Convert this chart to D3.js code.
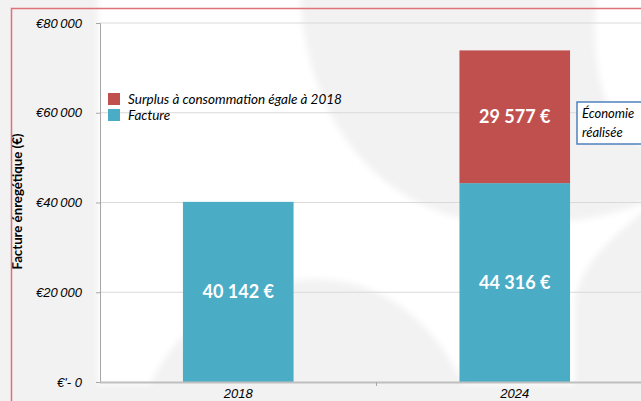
<!DOCTYPE html>
<html>
  <head>
    <meta charset="utf-8" />
    <script src="https://d3js.org/d3.v7.min.js"></script>
    <style>
      body { margin: 0; background: #ffffff; }
      svg { display: block; font-family: Lato, "Open Sans", sans-serif; }
    </style>
  </head>
  <body>
    <script>
      // chart data
      const years = ["2018", "2024"];
      const facture = [40142, 44316];
      const surplus = [0, 29577];
      const yTicks = [0, 20000, 40000, 60000, 80000];
      const seriesNames = ["Surplus à consommation égale à 2018", "Facture"];
      const colors = { facture: "#4bacc6", surplus: "#c0504d" };

      const width = 641, height = 401;
      const margin = { top: 23, right: -12, bottom: 19, left: 100 };

      const svg = d3.select("body").append("svg")
        .attr("width", width)
        .attr("height", height);

      svg.append("defs").append("filter").attr("id", "soft")
        .append("feGaussianBlur").attr("stdDeviation", 3);

      // faint watermark-like background (grey swirls on white)
      svg.append("rect").attr("width", width).attr("height", height).attr("fill", "#ffffff");
      const bg = svg.append("g").attr("fill", "#f2f2f2").attr("filter", "url(#soft)");
      bg.append("rect").attr("x", -10).attr("y", -10).attr("width", 108).attr("height", height + 20);
      bg.append("path")
        .attr("d", "M300,-10 L597,-10 C590,60 600,130 651,150 L651,200 C600,222 520,232 460,218 C370,195 305,115 300,-10 Z");
      bg.append("path")
        .attr("d", "M140,411 C165,330 230,288 300,280 C385,272 445,330 475,411 Z");
      bg.append("path")
        .attr("d", "M651,205 C610,240 582,262 575,300 L575,411 L651,411 Z");
      bg.append("rect").attr("x", -10).attr("y", 384).attr("width", width + 20).attr("height", 30);

      const x = d3.scaleBand()
        .domain(years)
        .range([margin.left, width - margin.right])
        .paddingInner(0.6)
        .paddingOuter(0.3);

      const y = d3.scaleLinear()
        .domain([0, 80000])
        .range([height - margin.bottom, margin.top]);

      // gridlines
      svg.append("g")
        .selectAll("line")
        .data(yTicks.slice(1))
        .join("line")
        .attr("x1", margin.left)
        .attr("x2", width)
        .attr("y1", d => y(d))
        .attr("y2", d => y(d))
        .attr("stroke", "#d9d9d9")
        .attr("stroke-width", 1);

      // y axis
      const yAxis = svg.append("g")
        .attr("transform", `translate(${margin.left},0)`)
        .call(d3.axisLeft(y).tickValues(yTicks).tickSize(4).tickPadding(14)
          .tickFormat(d => d === 0 ? "€'- 0" : "€" + d3.format(",")(d).replace(",", "\u2009")));
      yAxis.select(".domain").attr("stroke", "#a6a6a6");
      yAxis.selectAll(".tick line").attr("stroke", "#a6a6a6");
      yAxis.selectAll("text")
        .attr("font-size", 13)
        .attr("font-style", "italic")
        .attr("fill", "#000");

      // bars
      const stackData = years.map((yr, i) => ({ year: yr, facture: facture[i], surplus: surplus[i] }));
      const stack = d3.stack().keys(["facture", "surplus"])(stackData);

      svg.append("g")
        .selectAll("g")
        .data(stack)
        .join("g")
        .attr("fill", d => colors[d.key])
        .selectAll("rect")
        .data(d => d.filter(s => s[1] > s[0]))
        .join("rect")
        .attr("x", d => x(d.data.year))
        .attr("width", x.bandwidth())
        .attr("y", d => y(d[1]))
        .attr("height", d => y(d[0]) - y(d[1]));

      // bar value labels
      const fmt = v => d3.format(",")(v).replace(",", " ") + " €";
      const labels = [];
      stack.forEach(s => s.forEach(d => {
        if (d[1] > d[0]) labels.push({ year: d.data.year, v: d[1] - d[0], mid: (d[0] + d[1]) / 2 });
      }));
      svg.append("g")
        .selectAll("text")
        .data(labels)
        .join("text")
        .attr("x", d => x(d.year) + x.bandwidth() / 2)
        .attr("y", d => y(d.mid))
        .attr("dy", "0.35em")
        .attr("text-anchor", "middle")
        .attr("font-size", 18)
        .attr("font-weight", "bold")
        .attr("fill", "#ffffff")
        .text(d => fmt(d.v));

      // x axis
      const xAxis = svg.append("g")
        .attr("transform", `translate(0,${y(0)})`)
        .call(d3.axisBottom(x).tickSize(0).tickPadding(7));
      xAxis.select(".domain").remove();
      svg.append("line")
        .attr("x1", margin.left).attr("x2", width)
        .attr("y1", y(0) + 0.5).attr("y2", y(0) + 0.5)
        .attr("stroke", "#bfbfbf").attr("stroke-width", 2);
      svg.append("line")
        .attr("x1", (x("2018") + x("2024") + x.bandwidth()) / 2)
        .attr("x2", (x("2018") + x("2024") + x.bandwidth()) / 2)
        .attr("y1", y(0)).attr("y2", y(0) + 4)
        .attr("stroke", "#a6a6a6");
      xAxis.selectAll("text")
        .attr("font-size", 13)
        .attr("font-style", "italic")
        .attr("fill", "#000");

      // y axis title, sized to span about 136px like the original
      const title = svg.append("text")
        .attr("transform", `translate(22,${y(40000) - 1}) rotate(-90)`)
        .attr("text-anchor", "middle")
        .attr("font-size", 13)
        .attr("font-weight", "bold")
        .attr("fill", "#000")
        .text("Facture énregétique (€)");
      const tl = title.node().getComputedTextLength();
      if (tl > 0) title.attr("font-size", Math.min(15, 13 * 136 / tl));

      // legend
      const legend = svg.append("g").attr("transform", "translate(108,93)");
      seriesNames.forEach((name, i) => {
        const g = legend.append("g").attr("transform", `translate(0,${i * 16})`);
        g.append("rect").attr("width", 12).attr("height", 12)
          .attr("fill", i === 0 ? colors.surplus : colors.facture);
        g.append("text").attr("x", 20).attr("y", 6).attr("dy", "0.35em")
          .attr("font-size", 13.5).attr("font-style", "italic").attr("fill", "#000")
          .text(name);
      });

      // callout
      const callout = svg.append("g").attr("transform", "translate(577,102)");
      callout.append("rect").attr("width", 80).attr("height", 42)
        .attr("fill", "#ffffff").attr("stroke", "#4f81bd").attr("stroke-width", 1.5);
      callout.append("text").attr("x", 5).attr("y", 16)
        .attr("font-size", 13).attr("font-style", "italic").attr("fill", "#000")
        .text("Économie");
      callout.append("text").attr("x", 5).attr("y", 35)
        .attr("font-size", 13).attr("font-style", "italic").attr("fill", "#000")
        .text("réalisée");

      // red frame
      svg.append("path")
        .attr("d", `M11.5,${height} L11.5,8.5 L${width},8.5`)
        .attr("fill", "none")
        .attr("stroke", "#e0707a")
        .attr("stroke-width", 1.5);
    </script>
  </body>
</html>
